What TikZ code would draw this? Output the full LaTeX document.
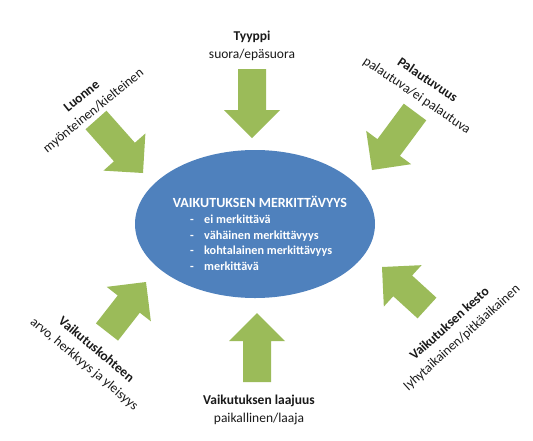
\documentclass[tikz,border=0pt]{standalone}
\usepackage{fontspec}
\setmainfont{Carlito}
\usetikzlibrary{calc,shapes.geometric}
\definecolor{arrowgreen}{HTML}{9BBB59}
\definecolor{ellblue}{HTML}{4F81BD}
\definecolor{txt}{HTML}{1A1A1A}
\newcommand\blockarr[3]{% name, tail, tip
  \coordinate (#1h) at ($(#3)!28pt!(#2)$);
  \fill[arrowgreen] ($(#2)!14pt!90:(#3)$) -- ($(#1h)!14pt!90:(#3)$) -- ($(#1h)!28pt!90:(#3)$) -- (#3)
    -- ($(#1h)!28pt!-90:(#3)$) -- ($(#1h)!14pt!-90:(#3)$) -- ($(#2)!14pt!-90:(#3)$) -- cycle;
}
\begin{document}
\begin{tikzpicture}[x=1pt,y=-1pt,
  lab/.style={text=txt, align=center, font=\fontsize{13.5}{18.5}\selectfont, inner sep=0pt},
  core/.style={ellipse, fill=ellblue, minimum width=240pt, minimum height=148pt, inner sep=0pt},
  intext/.style={text=white, inner sep=0pt, font=\bfseries}]
\useasboundingbox (0,0) rectangle (533,440);
\fill[white] (0,0) rectangle (533,440);
% central ellipse
\node[core] (core) at (255,224) {};
\node[intext, font=\bfseries\fontsize{14}{16}\selectfont] (title) at (260,202) {VAIKUTUKSEN MERKITTÄVYYS};
\node[intext, anchor=west, align=left, font=\bfseries\fontsize{12.2}{15.5}\selectfont] (list) at (190,243)
  {\makebox[14pt][l]{-}ei merkittävä\\
   \makebox[14pt][l]{-}vähäinen merkittävyys\\
   \makebox[14pt][l]{-}kohtalainen merkittävyys\\
   \makebox[14pt][l]{-}merkittävä};
% arrows
\coordinate (aTt) at (252,69);   \coordinate (aTp) at (252,138);
\coordinate (aLt) at (96,120);   \coordinate (aLp) at (143,173);
\coordinate (aRt) at (415,112);  \coordinate (aRp) at (372,170);
\coordinate (aBLt) at (107,332); \coordinate (aBLp) at (146,282);
\coordinate (aBt) at (257,382);  \coordinate (aBp) at (257,313);
\coordinate (aBRt) at (427,308); \coordinate (aBRp) at (382,267);
\blockarr{aT}{aTt}{aTp}
\blockarr{aL}{aLt}{aLp}
\blockarr{aR}{aRt}{aRp}
\blockarr{aBL}{aBLt}{aBLp}
\blockarr{aB}{aBt}{aBp}
\blockarr{aBR}{aBRt}{aBRp}
% labels
\node[lab] (tyyppi) at (252,46) {\textbf{Tyyppi}\\suora/epäsuora};
\node[lab, rotate=39] (luonne) at (88,104) {\textbf{Luonne}\\myönteinen/kielteinen};
\node[lab, rotate=-34] (palaut) at (422,88) {\textbf{Palautuvuus}\\palautuva/ei palautuva};
\node[lab, rotate=-40] (kohde) at (90,357) {\textbf{Vaikutuskohteen}\\arvo, herkkyys ja yleisyys};
\node[lab] (laajuus) at (259,410) {\textbf{Vaikutuksen laajuus}\\paikallinen/laaja};
\node[lab, rotate=42] (kesto) at (456,331) {\textbf{Vaikutuksen kesto}\\lyhytaikainen/pitkäaikainen};
\end{tikzpicture}
\end{document}
